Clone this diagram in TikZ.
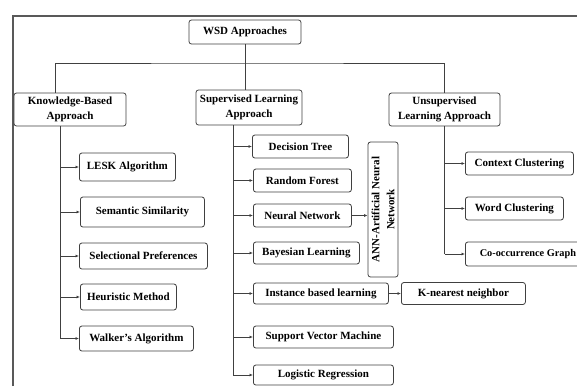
\documentclass[tikz,border=0pt]{standalone}
\usepackage{fontspec}
\setmainfont{Liberation Serif}
\usetikzlibrary{positioning,arrows.meta}

\tikzset{
	box/.style={draw=black!75, line width=0.8pt, rounded corners=2.5pt, fill=white,
		font=\bfseries\fontsize{11}{15}\selectfont, inner sep=2pt, align=center,
		minimum height=23pt},
	leaf/.style={box, anchor=west},
	link/.style={line width=0.9pt, draw=black!75},
	tip/.style={link, -{Latex[length=3.5pt,width=3pt]}},
}

\begin{document}
\begin{tikzpicture}[x=1pt,y=-1pt]
	\useasboundingbox (0,0) rectangle (577,386);
	
	% outer frame
	\draw[line width=1.2pt, black!65] (13,386) -- (13,16) -- (577,16);
	
	% top levels
	\node[box, minimum width=112pt, minimum height=24pt] (wsd) at (245,32) {WSD Approaches};
	\node[box, minimum width=112pt, minimum height=33pt] (kb) at (70,109.5) {Knowledge-Based\\Approach};
	\node[box, minimum width=106pt, minimum height=35pt] (sl) at (249,107.5) {Supervised Learning\\Approach};
	\node[box, minimum width=111pt, minimum height=33pt] (ul) at (444.5,109.5) {Unsupervised\\Learning Approach};
	
	\coordinate (bus) at (245,63);
	\draw[link] (wsd.south) -- (wsd.south |- sl.north);
	\draw[link] ([xshift=-15pt]kb.north) |- (bus) -| (ul.north);
	
	% knowledge based
	\node[leaf, minimum width=96pt, minimum height=28pt] (lesk) at (79,167) {LESK Algorithm};
	\node[leaf, minimum width=124pt, minimum height=30pt] (sem) at (80,212) {Semantic Similarity};
	\node[leaf, minimum width=128pt, minimum height=26pt] (sel) at (79,256) {Selectional Preferences};
	\node[leaf, minimum width=96pt, minimum height=26pt] (heu) at (80,297) {Heuristic Method};
	\node[leaf, minimum width=114pt, minimum height=25pt] (walk) at (79,338.5) {Walker's Algorithm};
	
	\coordinate (kbt) at ([xshift=-10pt]kb.south);
	\draw[link] (kbt) -- (kbt |- walk.west);
	\foreach \n in {lesk,sem,sel,heu,walk}
	\draw[tip] (kbt |- \n.west) -- (\n.west);
	
	% supervised
	\node[leaf, minimum width=96pt] (dt) at (252,146.5) {Decision Tree};
	\node[leaf, minimum width=98pt] (rf) at (253,180.5) {Random Forest};
	\node[leaf, minimum width=98pt] (nn) at (253,215.5) {Neural Network};
	\node[leaf, minimum width=106pt, minimum height=22pt] (bl) at (253,253) {Bayesian Learning};
	\node[leaf, minimum width=135pt, minimum height=21pt] (ibl) at (253,293.5) {Instance based learning};
	\node[leaf, minimum width=140pt, minimum height=22pt] (svm) at (253,337) {Support Vector Machine};
	\node[leaf, minimum width=140pt, minimum height=20pt] (lr) at (253,375) {Logistic Regression};
	
	\node[box, rotate=90, minimum width=135pt, minimum height=30pt] (ann) at (383,209.5) {ANN-Artificial Neural\\Network};
	\node[leaf, minimum width=124pt, minimum height=22pt] (knn) at (401,293.5) {K-nearest neighbor};
	
	\coordinate (slt) at ([xshift=-16pt]sl.south);
	\draw[link] (slt) -- (slt |- lr.west);
	\foreach \n in {dt,rf,nn,bl,ibl,svm,lr}
	\draw[tip] (slt |- \n.west) -- (\n.west);
	\draw[tip] (nn.east) -- (nn.east -| ann.north);
	\draw[tip] (ibl.east) -- (knn.west);
	
	% unsupervised
	\node[leaf, minimum width=108pt] (cc) at (465,163.5) {Context Clustering};
	\node[leaf, minimum width=98pt] (wc) at (465,208.5) {Word Clustering};
	\node[leaf, minimum width=125pt, minimum height=24pt, font=\bfseries\fontsize{10.3}{14}\selectfont] (cog) at (465,254) {Co-occurrence Graph};
	
	\coordinate (ult) at (ul.south);
	\draw[link] (ult) -- (ult |- cog.west);
	\foreach \n in {cc,wc,cog}
	\draw[tip] (ult |- \n.west) -- (\n.west);
	
\end{tikzpicture}
\end{document}
